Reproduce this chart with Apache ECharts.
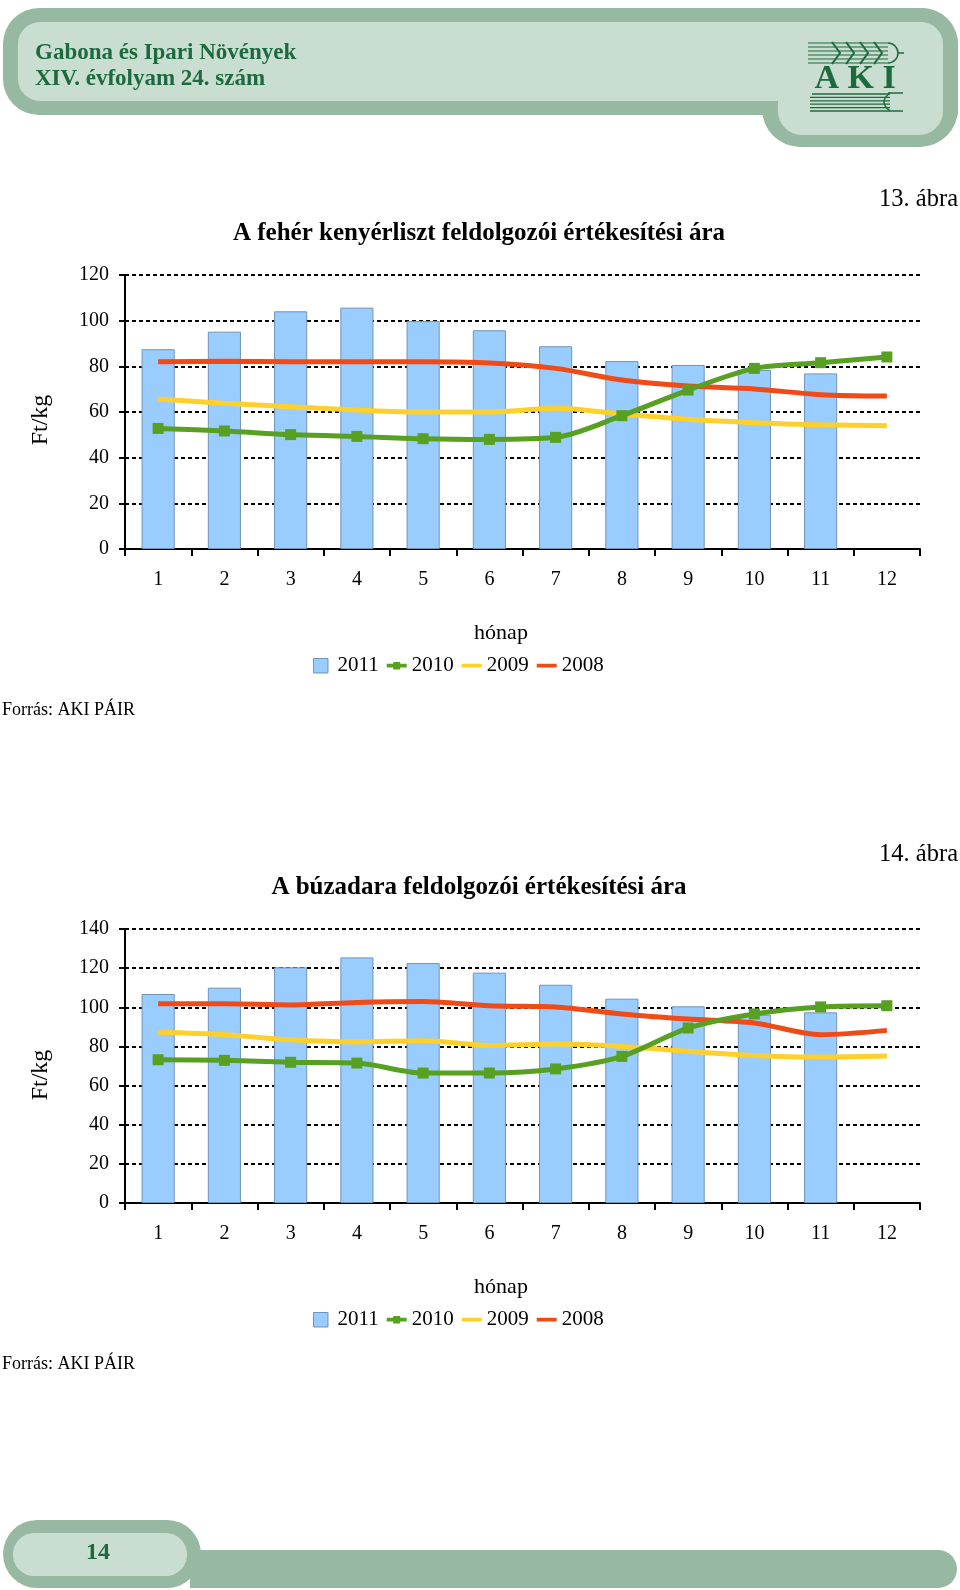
<!DOCTYPE html>
<html><head><meta charset="utf-8">
<script src="https://cdn.jsdelivr.net/npm/echarts@6/dist/echarts.min.js"></script>
<style>html,body{margin:0;padding:0;background:#fff}#c{width:960px;height:1590px}</style>
</head><body><div id="c"></div>
<script>
const months = ['1','2','3','4','5','6','7','8','9','10','11','12'];
const seriesNames = ['2011','2010','2009','2008'];
const yTicks1 = [0,20,40,60,80,100,120];
const yTicks2 = [0,20,40,60,80,100,120,140];

// Chart 13: A fehér kenyérliszt (Ft/kg)
const flour2011 = [87.5, 95.2, 104.1, 105.7, 99.8, 95.8, 88.8, 82.3, 80.6, 78.4, 76.9, null];
const flour2010 = [52.8, 51.7, 50.1, 49.3, 48.3, 48.0, 48.9, 58.4, 69.6, 79.1, 81.6, 84.1];
const flour2009 = [65.7, 63.8, 62.3, 60.9, 60.0, 60.0, 61.6, 59.1, 56.8, 55.3, 54.4, 54.0];
const flour2008 = [82.0, 82.2, 82.0, 82.0, 82.0, 81.5, 79.1, 74.0, 71.4, 70.1, 67.6, 67.0];

// Chart 14: A búzadara (Ft/kg)
const semolina2011 = [106.8, 110.0, 120.4, 125.5, 122.6, 117.7, 111.5, 104.4, 100.5, 96.2, 97.4, null];
const semolina2010 = [73.2, 72.9, 71.9, 71.5, 66.4, 66.4, 68.5, 74.9, 89.4, 96.6, 100.2, 100.8];
const semolina2009 = [87.2, 86.0, 83.4, 82.3, 82.9, 80.5, 81.2, 80.0, 77.5, 75.4, 74.6, 75.1];
const semolina2008 = [101.8, 101.8, 101.2, 102.5, 103.0, 100.8, 100.2, 96.6, 94.0, 92.0, 86.0, 88.2];

const FONT = 'Liberation Serif';
const C_BAR = '#99ccff', C_BAR_B = '#7193b8';
const C_2010 = '#58a021', C_2009 = '#fdd02c', C_2008 = '#f04b16';
const HDR_DARK = '#97b9a1', HDR_LIGHT = '#c9ddd0', HDR_TEXT = '#1c6a3e';

// legend icons (20 x 15 box)
const BOX = 'M0,0L0.01,0L0.01,0.01Z M20,15L20.01,15L20.01,15.01Z ';
const ICON_BAR = 'path://' + BOX + 'M1,0.5L15.5,0.5L15.5,15L1,15Z';
const ICON_LINE = 'path://' + BOX + 'M0,5.8L20,5.8L20,9.6L0,9.6Z';
const ICON_MARK = 'path://' + BOX + 'M0,5.8L6.5,5.8L6.5,4L13.5,4L13.5,5.8L20,5.8L20,9.6L13.5,9.6L13.5,11.4L6.5,11.4L6.5,9.6L0,9.6Z';

function xAxisCfg(gi){
  return {
    type:'category', gridIndex:gi, data:months, boundaryGap:true,
    axisLine:{lineStyle:{color:'#000', width:2}},
    axisTick:{show:true, interval:0, length:7, lineStyle:{color:'#000', width:2}},
    axisLabel:{color:'#000', fontFamily:FONT, fontSize:20, margin:21, interval:0}
  };
}
function yAxisCfg(gi, ticks){
  return {
    type:'value', gridIndex:gi, min:ticks[0], max:ticks[ticks.length-1], interval:ticks[1]-ticks[0],
    axisLine:{show:true, lineStyle:{color:'#000', width:2}},
    axisTick:{show:true, length:6, lineStyle:{color:'#000', width:2}},
    axisLabel:{color:'#000', fontFamily:FONT, fontSize:20, margin:16},
    splitLine:{show:true, lineStyle:{color:'#000', width:2, type:[4,3]}}
  };
}
function barS(gi, data){
  return {name:'2011', type:'bar', xAxisIndex:gi, yAxisIndex:gi, data:data, barWidth:'50%',
    itemStyle:{color:C_BAR, borderColor:C_BAR_B, borderWidth:1}, z:2};
}
function lineS(gi, name, data, color, marker){
  return {name:name, type:'line', xAxisIndex:gi, yAxisIndex:gi, data:data, smooth:0.3,
    symbol: marker ? 'rect' : 'none', symbolSize: marker ? 11 : 0, showSymbol: !!marker,
    lineStyle:{color:color, width:5}, itemStyle:{color:color}, z: marker ? 5 : 4};
}
function legendCfg(top){
  return {
    top:top, left:307, itemWidth:20, itemHeight:15, itemGap:8,
    itemStyle:{borderWidth:0},
    textStyle:{color:'#000', fontFamily:FONT, fontSize:21, padding:[0,0,0,0]},
    data:[
      {name:'2011', icon:ICON_BAR, itemStyle:{color:C_BAR, borderColor:C_BAR_B, borderWidth:1}},
      {name:'2010', icon:ICON_MARK},
      {name:'2009', icon:ICON_LINE},
      {name:'2008', icon:ICON_LINE}
    ],
    selectedMode:false
  };
}
function txt(x, y, text, size, opts){
  opts = opts || {};
  return {type:'text', x:x, y:y, rotation:opts.rot||0, z:10,
    style:{text:text, fill:opts.fill||'#000', font:(opts.bold?'bold ':'')+size+'px "'+FONT+'"',
      textAlign:opts.align||'center', textVerticalAlign:'middle'}};
}

const graphics = [
  // header
  {type:'rect', shape:{x:3,y:8,width:955,height:107,r:[36,36,0,36]}, style:{fill:HDR_DARK}},
  {type:'rect', shape:{x:762,y:8,width:196,height:139,r:[0,38,38,38]}, style:{fill:HDR_DARK}},
  {type:'rect', shape:{x:18,y:22,width:925,height:79,r:[22,22,0,22]}, style:{fill:HDR_LIGHT}},
  {type:'rect', shape:{x:778,y:22,width:165,height:113,r:[0,24,24,24]}, style:{fill:HDR_LIGHT}},
  txt(35, 53, 'Gabona és Ipari Növények', 23, {bold:true, align:'left', fill:HDR_TEXT}),
  txt(35, 79, 'XIV. évfolyam 24. szám', 23, {bold:true, align:'left', fill:HDR_TEXT}),
  txt(855, 79, 'A K I', 34, {bold:true, fill:HDR_TEXT}),
  // footer
  {type:'rect', shape:{x:190,y:1550,width:767,height:38,r:[0,19,19,0]}, style:{fill:HDR_DARK}},
  {type:'rect', shape:{x:3,y:1520,width:198,height:68,r:34}, style:{fill:HDR_DARK}},
  {type:'rect', shape:{x:13,y:1533,width:174,height:43,r:21}, style:{fill:HDR_LIGHT}},
  txt(98, 1553, '14', 24, {bold:true, fill:HDR_TEXT}),
  // chart 13 texts
  txt(958, 200, '13. ábra', 24.5, {align:'right'}),
  txt(479, 234, 'A fehér kenyérliszt feldolgozói értékesítési ára', 25, {bold:true}),
  txt(41, 420, 'Ft/kg', 24, {rot:Math.PI/2}),
  txt(501, 633, 'hónap', 22),
  txt(2, 710, 'Forrás: AKI PÁIR', 18, {align:'left'}),
  // chart 14 texts
  txt(958, 855, '14. ábra', 24.5, {align:'right'}),
  txt(479, 888, 'A búzadara feldolgozói értékesítési ára', 25, {bold:true}),
  txt(41, 1075, 'Ft/kg', 24, {rot:Math.PI/2}),
  txt(501, 1287, 'hónap', 22),
  txt(2, 1364, 'Forrás: AKI PÁIR', 18, {align:'left'})
];
// logo: wheat ear lines and book lines
for (let i=0;i<6;i++){
  graphics.push({type:'line', shape:{x1:808,y1:43+i*4,x2:888,y2:43+i*4}, style:{stroke:HDR_TEXT, lineWidth:1.2}});
}
for (let k=0;k<4;k++){
  const cx = 832+k*14;
  graphics.push({type:'polyline', shape:{points:[[cx,42],[cx+8,53],[cx,64]]}, style:{stroke:HDR_TEXT, lineWidth:2, fill:'none'}});
}
graphics.push({type:'arc', shape:{cx:888,cy:53,r:10,startAngle:-Math.PI/2,endAngle:Math.PI/2}, style:{stroke:HDR_TEXT, lineWidth:1.5, fill:'none'}});
graphics.push({type:'line', shape:{x1:898,y1:53,x2:904,y2:53}, style:{stroke:HDR_TEXT, lineWidth:1.5}});
for (let i=0;i<6;i++){
  graphics.push({type:'line', shape:{x1:812-(i<1?0:2),y1:94+i*3.4,x2:890,y2:94+i*3.4}, style:{stroke:HDR_TEXT, lineWidth:1.3}});
}
graphics.push({type:'line', shape:{x1:888,y1:93,x2:903,y2:93}, style:{stroke:HDR_TEXT, lineWidth:1.5}});
graphics.push({type:'line', shape:{x1:890,y1:111,x2:903,y2:111}, style:{stroke:HDR_TEXT, lineWidth:1.5}});
graphics.push({type:'bezierCurve', shape:{x1:890,y1:93,x2:890,y2:111,cpx1:878,cpy1:102}, style:{stroke:HDR_TEXT, lineWidth:1.5, fill:'none'}});

const option = {
  animation:false,
  backgroundColor:'#fff',
  textStyle:{fontFamily:FONT},
  grid:[
    {left:125, right:40, top:275, height:274, containLabel:false},
    {left:125, right:40, top:929, height:274, containLabel:false}
  ],
  xAxis:[xAxisCfg(0), xAxisCfg(1)],
  yAxis:[yAxisCfg(0, yTicks1), yAxisCfg(1, yTicks2)],
  legend:[legendCfg(650), legendCfg(1304)],
  series:[
    barS(0, flour2011),
    lineS(0, '2008', flour2008, C_2008, false),
    lineS(0, '2009', flour2009, C_2009, false),
    lineS(0, '2010', flour2010, C_2010, true),
    barS(1, semolina2011),
    lineS(1, '2008', semolina2008, C_2008, false),
    lineS(1, '2009', semolina2009, C_2009, false),
    lineS(1, '2010', semolina2010, C_2010, true)
  ],
  graphic:graphics
};
const chart = echarts.init(document.getElementById('c'), null, {renderer:'canvas'});
chart.setOption(option);
</script></body></html>
